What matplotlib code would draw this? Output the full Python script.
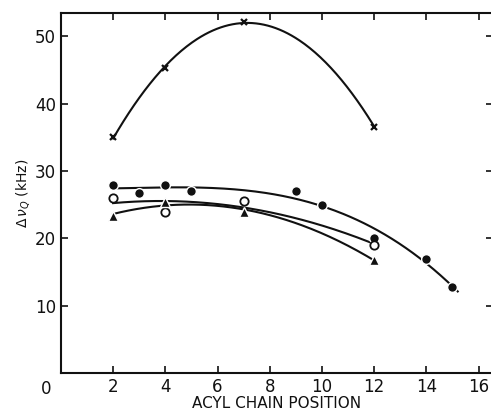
import matplotlib
matplotlib.use("Agg")
import matplotlib.pyplot as plt
import numpy as np

# donnees
x_cross = [2, 4, 7, 12]
y_cross = [35.0, 45.3, 52.2, 36.6]

x_fill = [2, 3, 4, 5, 9, 10, 12, 14, 15]
y_fill = [28.0, 26.7, 28.0, 27.0, 27.0, 25.0, 20.0, 17.0, 12.8]

x_open = [2, 4, 7, 12]
y_open = [26.0, 24.0, 25.6, 19.0]

x_tri = [2, 4, 7, 12]
y_tri = [23.4, 25.4, 24.0, 16.8]

XTICKS = [2, 4, 6, 8, 10, 12, 14, 16]
YTICKS = [10, 20, 30, 40, 50]
K = "#111111"


def courbe(ax, x, y, deg, x_end=None):
    c = np.polyfit(x, y, deg)
    xs = np.linspace(min(x), x_end if x_end else max(x), 200)
    ax.plot(xs, np.polyval(c, xs), color=K, lw=1.5, zorder=2)


fig = plt.figure(figsize=(4.91, 4.16), dpi=100)
ax = fig.add_axes([0.124, 0.103, 0.88, 0.866])

courbe(ax, x_cross, y_cross, 2)
courbe(ax, x_fill, y_fill, 3, 15.2)
courbe(ax, x_open, y_open, 2)
courbe(ax, x_tri, y_tri, 2)

ax.plot(x_cross, y_cross, "x", color=K, ms=4.5, mew=1.6, zorder=3)
ax.plot(x_fill, y_fill, "o", color=K, ms=7, mec="white", mew=1.0, zorder=3)
ax.plot(x_open, y_open, "o", mfc="white", mec=K, ms=6, mew=1.3, zorder=3)
ax.plot(x_tri, y_tri, "^", color=K, ms=7, mec="white", mew=1.0, zorder=3)

ax.set_xlim(0, 16.55)
ax.set_ylim(0, 53.5)
ax.set_xticks(XTICKS)
ax.set_yticks(YTICKS)
ax.tick_params(direction="in", top=True, right=True, labelsize=12, length=5,
               width=1.2, colors=K)
ax.text(-0.55, -1.0, "0", fontsize=12, ha="center", va="top", color=K, clip_on=False)
for s in ax.spines.values():
    s.set_linewidth(1.5)
    s.set_color(K)

ax.set_xlabel("ACYL CHAIN POSITION", fontsize=11, labelpad=0, color=K)
ax.set_ylabel(r"$\Delta\,\nu_Q$ (kHz)", fontsize=10, color=K, labelpad=2)

fig.savefig("out.png", dpi=100)
